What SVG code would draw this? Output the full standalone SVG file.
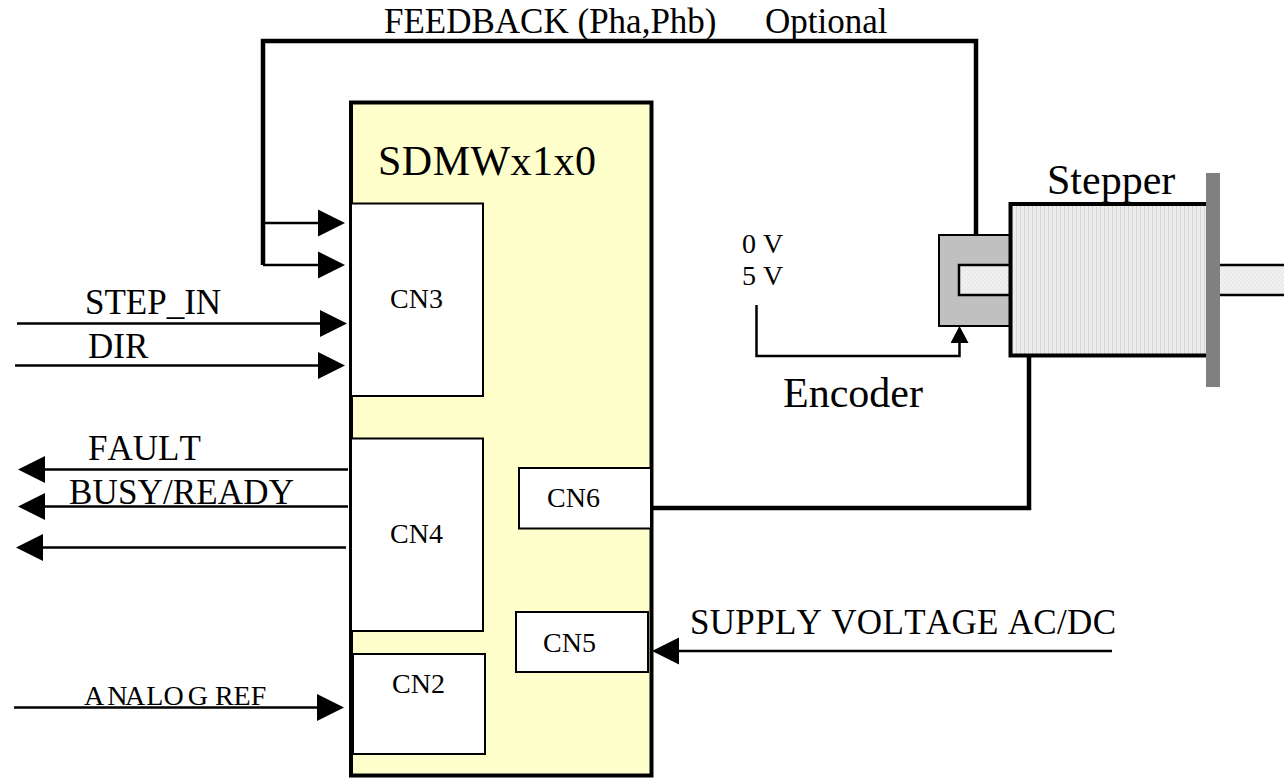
<svg xmlns="http://www.w3.org/2000/svg" width="1284" height="778" viewBox="0 0 1284 778">
<style>
text{font-family:"Liberation Serif","Times New Roman",serif;fill:#000;font-kerning:none}
.s42{font-size:42px}.s35{font-size:35px}.s28{font-size:28px}
.cn{fill:#fff;stroke:#000;stroke-width:2}
.thick{fill:none;stroke:#000;stroke-width:4.500;stroke-linejoin:miter}
.thin{fill:none;stroke:#000;stroke-width:2.500}
</style>
<defs>
<marker id="arrow" markerUnits="userSpaceOnUse" markerWidth="28" markerHeight="28" refX="0" refY="14" orient="auto" viewBox="0 0 28 28"><path d="M0 .5L27 14L0 27.500Z" fill="#000"/></marker>
<marker id="arrowS" markerUnits="userSpaceOnUse" markerWidth="18" markerHeight="18" refX="0" refY="9" orient="auto" viewBox="0 0 18 18"><path d="M0 0L17 9L0 18Z" fill="#000"/></marker>
<pattern id="vstripe" patternUnits="userSpaceOnUse" width="4" height="4"><rect width="4" height="4" fill="#ececec"/><rect width="1" height="4" fill="#d6d6d6"/></pattern>
<pattern id="dstripe" patternUnits="userSpaceOnUse" width="4" height="4"><rect width="4" height="4" fill="#f0f0f0"/><path d="M0 4L4 0" stroke="#e4e4e4" stroke-width="1"/></pattern>
</defs>
<g id="connectors">
<path class="thick" d="M976 236V41H263V265"/>
<path class="thick" d="M652 508H1029V354"/>
<path class="thin" d="M263 223H318" marker-end="url(#arrow)"/>
<path class="thin" d="M263 265H318" marker-end="url(#arrow)"/>
<path class="thin" d="M17 323.500H320" marker-end="url(#arrow)"/>
<path class="thin" d="M15 365.500H318" marker-end="url(#arrow)"/>
<path class="thin" d="M348 469.500H45" marker-end="url(#arrow)"/>
<path class="thin" d="M348 506.500H45" marker-end="url(#arrow)"/>
<path class="thin" d="M346 547.500H43" marker-end="url(#arrow)"/>
<path class="thin" d="M14 707.500H317" marker-end="url(#arrow)"/>
<path class="thin" d="M1112 651H679" marker-end="url(#arrow)"/>
<path class="thin" d="M756.500 305V356H959.500V343" marker-end="url(#arrowS)"/>
</g>
<g id="driver">
<rect x="351" y="102.500" width="300.500" height="673" fill="#ffffcc" stroke="#000" stroke-width="4"/>
<text class="s42" x="378" y="175" textLength="218">SDMWx1x0</text>
</g>
<g id="cn3"><rect class="cn" x="351" y="203.500" width="132" height="192.500"/><text class="s28" x="390" y="308">CN3</text></g>
<g id="cn4"><rect class="cn" x="351" y="438.500" width="132" height="192.500"/><text class="s28" x="390" y="543">CN4</text></g>
<g id="cn2"><rect class="cn" x="353" y="654" width="132" height="100"/><text class="s28" x="392" y="693">CN2</text></g>
<g id="cn6"><rect class="cn" x="519" y="468" width="132" height="60.500"/><text class="s28" x="547" y="507">CN6</text></g>
<g id="cn5"><rect class="cn" x="516" y="612" width="132" height="60"/><text class="s28" x="543" y="652">CN5</text></g>
<g id="shaft"><rect x="1200" y="265" width="90" height="30" fill="url(#dstripe)" stroke="#000" stroke-width="2.500"/></g>
<g id="encoder">
<rect x="939" y="235" width="72" height="91" fill="#c0c0c0" stroke="#000" stroke-width="2"/>
<rect x="959" y="265" width="52" height="30" fill="url(#dstripe)" stroke="#000" stroke-width="2.500"/>
</g>
<g id="stepper">
<path d="M1206 204H1010.500V355.500H1206" fill="url(#vstripe)" stroke="#000" stroke-width="4"/>
<rect x="1206" y="173" width="14" height="214" fill="#808080"/>
<text class="s42" x="1047" y="194">Stepper</text>
</g>
<g id="labels">
<text class="s35" x="384" y="33">FEEDBACK (Pha,Phb)</text>
<text class="s35" x="765" y="33">Optional</text>
<text class="s35" x="85" y="314">STEP_IN</text>
<text class="s35" x="88" y="358">DIR</text>
<text class="s35" x="88" y="460">FAULT</text>
<text class="s35" x="69" y="504" textLength="225">BUSY/READY</text>
<text class="s28" x="84" y="705" dx="0 3 -2.400 1 0 4 0 0 0 0">ANALOG REF</text>
<text class="s35" x="690" y="634" textLength="426">SUPPLY VOLTAGE AC/DC</text>
<text class="s28" x="742" y="253">0 V</text>
<text class="s28" x="742" y="285">5 V</text>
<text class="s42" x="783" y="407">Encoder</text>
</g>
</svg>
